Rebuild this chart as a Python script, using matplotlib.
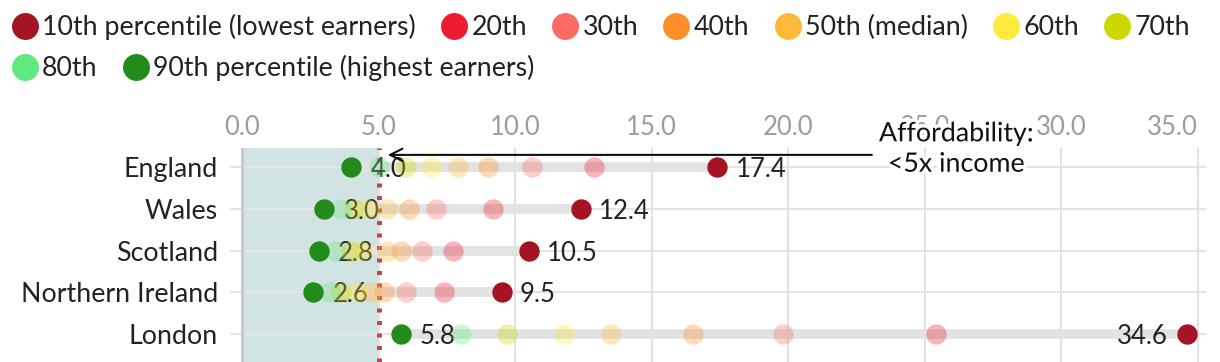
import matplotlib
matplotlib.use("Agg")
import matplotlib.pyplot as plt
from matplotlib.lines import Line2D
import matplotlib.patheffects as pe

plt.rcParams['font.family'] = ['Lato', 'DejaVu Sans']

countries = ['England', 'Wales', 'Scotland', 'Northern Ireland', 'London']
p10 = [17.4, 12.4, 10.5, 9.5, 34.6]
p20 = [12.9, 9.2, 7.7, 7.4, 25.4]
p30 = [10.6, 7.1, 6.6, 6.0, 19.8]
p40 = [9.0, 6.1, 5.8, 5.2, 16.5]
p50 = [7.9, 5.3, 5.3, 4.7, 13.5]
p60 = [6.9, 4.6, 4.4, 4.2, 11.8]
p70 = [6.0, 4.1, 4.0, 3.6, 9.7]
p80 = [5.0, 3.6, 3.45, 3.2, 8.0]
p90 = [4.0, 3.0, 2.8, 2.6, 5.8]

series_labels = ['10th percentile (lowest earners)', '20th', '30th', '40th',
                 '50th (median)', '60th', '70th', '80th',
                 '90th percentile (highest earners)']
series_values = [p10, p20, p30, p40, p50, p60, p70, p80, p90]
series_colors = ['#a51422', '#ee1c2e', '#fc6b62', '#fd8e2a', '#feb938',
                 '#feea3a', '#ccd800', '#5ee87f', '#228b1a']

threshold = 5.0
xticks = [0, 5, 10, 15, 20, 25, 30, 35]
annot_text = 'Affordability:\n<5x income'

fig = plt.figure(figsize=(12.2, 3.62), dpi=100)
ax = fig.add_axes([230 / 1220, 0.0, 976 / 1220, 1 - 148 / 362])
ax.set_xlim(-0.45, 35.3)
ax.set_ylim(4.67, -0.455)

for s in ax.spines.values():
    s.set_visible(False)

# shaded affordable region
ax.axvspan(0, threshold, color='#d2e3e3', zorder=0.2, lw=0)

# grid
for xv in xticks:
    if xv == 0:
        ax.axvline(xv, color='#c8c8c8', lw=2.2, zorder=0.6)
    else:
        ax.axvline(xv, color='#e2e2e2', lw=1.5, zorder=0.6)
for i in range(len(countries)):
    ax.axhline(i, color='#e4e4e4', lw=1.5, zorder=0.5)

ax.xaxis.tick_top()
ax.set_xticks(xticks)
ax.set_xticklabels([f'{v:.1f}' for v in xticks])
ax.tick_params(axis='x', length=0, pad=5.5, labelsize=18.5, labelcolor='#9c9c9c')
ax.get_xticklabels()[-1].set_horizontalalignment('right')
ax.set_yticks(range(len(countries)))
ax.set_yticklabels(countries)
ax.tick_params(axis='y', length=0, pad=8.6, labelsize=19.3, labelcolor='#222222')

# range bars
for i in range(len(countries)):
    ax.plot([p90[i], p10[i]], [i, i], color='#e2e2e2', lw=7, zorder=1.5,
            solid_capstyle='butt')

# threshold line
ax.axvline(threshold, color='#c0474f', lw=3.6, ls=(0, (0.8, 1.7)), zorder=2.5)

# value labels
lab_fs = 18.5
for i in range(len(countries)):
    ax.annotate(f'{p90[i]:.1f}', xy=(p90[i], i), xytext=(14, 0),
                textcoords='offset points', ha='left', va='center_baseline',
                fontsize=lab_fs, color='#222222', zorder=3)
    if p10[i] > 30:
        ax.annotate(f'{p10[i]:.1f}', xy=(p10[i], i), xytext=(-14, 0),
                    textcoords='offset points', ha='right', va='center_baseline',
                    fontsize=lab_fs, color='#222222', zorder=3)
    else:
        ax.annotate(f'{p10[i]:.1f}', xy=(p10[i], i), xytext=(13, 0),
                    textcoords='offset points', ha='left', va='center_baseline',
                    fontsize=lab_fs, color='#222222', zorder=3)

# dots
ypos = list(range(len(countries)))
n = len(series_values)
for k, (vals, col) in enumerate(zip(series_values, series_colors)):
    solid = (k == 0 or k == n - 1)
    ax.scatter(vals, ypos, s=215, color=col, alpha=1.0 if solid else 0.33,
               lw=0, zorder=5 if solid else 4, clip_on=False)

# annotation
ax.annotate('', xy=(5.33, -0.29), xytext=(23.06, -0.29),
            arrowprops=dict(arrowstyle='->', color='#111111', lw=1.5,
                            mutation_scale=22, shrinkA=0, shrinkB=0),
            annotation_clip=False, zorder=6)
ax.text(26.15, -0.43, annot_text, ha='center', va='center', fontsize=19.3,
        color='#111111', linespacing=1.27, zorder=7, clip_on=False,
        path_effects=[pe.withStroke(linewidth=5, foreground='white')])

# legend (two flowing rows)
handles = [Line2D([], [], marker='o', ls='', markersize=19.4, color=c,
                  markeredgewidth=0) for c in series_colors]
common = dict(frameon=False, borderpad=0, borderaxespad=0, handlelength=1.0,
              handletextpad=0.14, columnspacing=0.93, fontsize=19.3,
              labelcolor='#222222', loc='center left')
leg1 = fig.legend(handles[:7], series_labels[:7], ncol=7,
                  bbox_to_anchor=(11.5 / 1220, 1 - 27 / 362), **common)
leg2 = fig.legend(handles[7:], series_labels[7:], ncol=2,
                  bbox_to_anchor=(11.5 / 1220, 1 - 68 / 362), **common)

fig.savefig('out.png', dpi=100)
